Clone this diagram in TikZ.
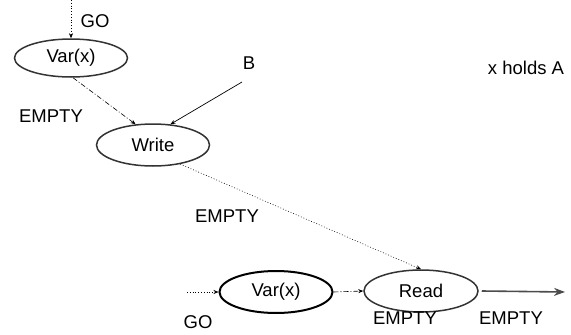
\documentclass[tikz,border=0pt]{standalone}
\usepackage{fontspec}
\setmainfont{Liberation Sans}
\usetikzlibrary{shapes.geometric,arrows.meta}
\begin{document}
\begin{tikzpicture}[x=1pt,y=-1pt,
  every node/.style={font=\fontsize{18.5}{21}\selectfont},
  proc/.style={ellipse,draw=black!80,line width=1.5pt,inner sep=0pt},
  lbl/.style={inner sep=0pt},
  tip/.style={-{Stealth[length=5pt,width=4pt]}},
  dotline/.style={tip,line width=0.6pt,dash pattern=on 0.8pt off 2pt},
  dashdotline/.style={tip,line width=0.6pt,dash pattern=on 5pt off 2pt on 1pt off 2pt}]
\useasboundingbox (0,0) rectangle (571,335);

% processes
\node[proc,minimum width=113pt,minimum height=38pt] (var1) at (71,58) {Var(x)};
\node[proc,minimum width=113pt,minimum height=42pt] (write) at (153,145) {Write};
\node[proc,draw=black,line width=2pt,minimum width=113pt,minimum height=42pt] (var2) at (276,292) {Var(x)};
\node[proc,minimum width=114pt,minimum height=42pt] (read) at (421,291) {Read};

% free ends
\coordinate (go1) at (71,0);
\coordinate (bsrc) at (242,82);
\coordinate (go2) at (187,292);
\coordinate (out) at (565,292);

% labels
\node[lbl] (lgo1) at (95,21) {GO};
\node[lbl] (lempty1) at (51,116) {EMPTY};
\node[lbl] (lb) at (249,63) {B};
\node[lbl] (lholds) at (526,68) {x holds A};
\node[lbl] (lempty2) at (227,216) {EMPTY};
\node[lbl] (lgo2) at (198,322) {GO};
\node[lbl] (lempty3) at (405,318) {EMPTY};
\node[lbl] (lempty4) at (511,318) {EMPTY};

% connectors
\draw[dotline] (go1) -- (var1.north);
\draw[dashdotline] (var1.south) ++(2,0) -- (write.130);
\draw[tip,line width=0.7pt] (bsrc) -- (write.50);
\draw[dotline] (write.-35) -- (read.north);
\draw[dotline] (go2) -- (var2.west);
\draw[dashdotline] (var2.east) -- (read.west);
\draw[-{Stealth[length=11pt,width=8pt]},draw=black!70,fill=black!70,line width=1.6pt] (read.east) ++(3,0) -- (out);
\end{tikzpicture}
\end{document}
